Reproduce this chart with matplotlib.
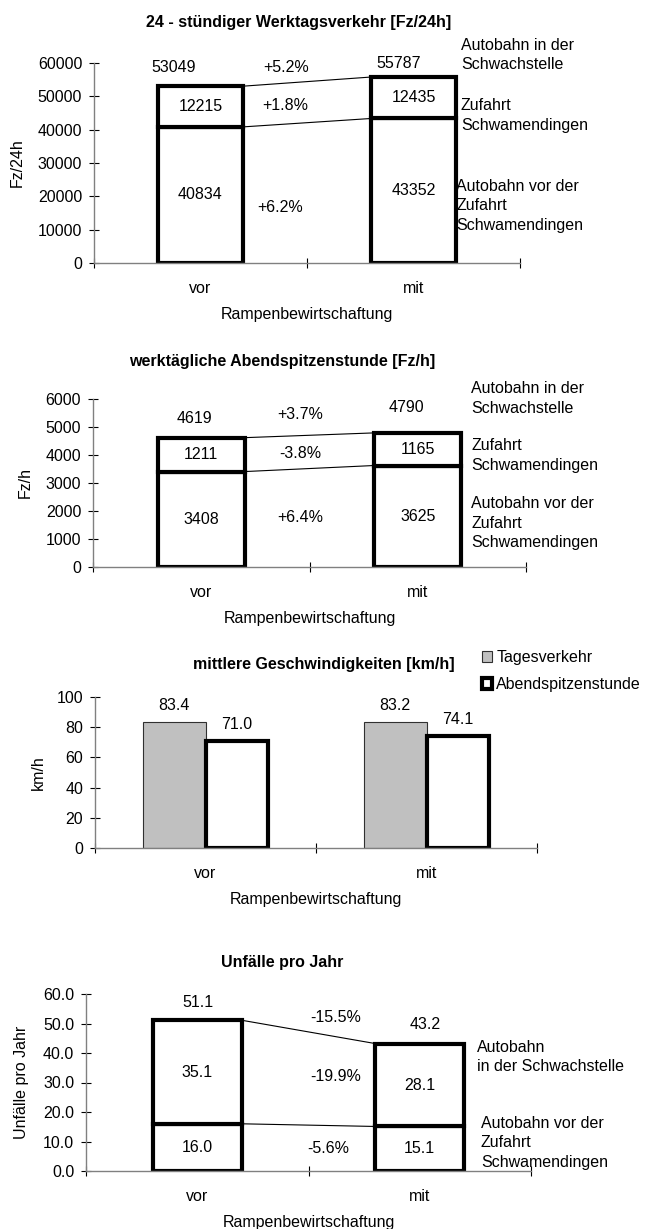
import numpy as np
import matplotlib.pyplot as plt
from matplotlib.patches import Patch

plt.rcParams['font.family'] = ['Liberation Sans', 'DejaVu Sans']
plt.rcParams['font.size'] = 11.5

kategorien = ['vor', 'mit']
xlab = 'Rampenbewirtschaftung'

# 24-stuendiger Werktagsverkehr
dtv_unten = [40834, 43352]     # Autobahn vor der Zufahrt
dtv_zufahrt = [12215, 12435]   # Zufahrt Schwamendingen
dtv_summe = [53049, 55787]     # Autobahn in der Schwachstelle
dtv_prozent = ['+5.2%', '+1.8%', '+6.2%']

# Abendspitzenstunde
asp_unten = [3408, 3625]
asp_zufahrt = [1211, 1165]
asp_summe = [4619, 4790]
asp_prozent = ['+3.7%', '-3.8%', '+6.4%']

# Geschwindigkeiten
v_tag = [83.4, 83.2]
v_asp = [71.0, 74.1]

# Unfaelle
unf_unten = [16.0, 15.1]
unf_oben = [35.1, 28.1]
unf_summe = [51.1, 43.2]
unf_prozent = ['-15.5%', '-19.9%', '-5.6%']

W, H = 653, 1229
fig = plt.figure(figsize=(W / 100, H / 100), dpi=100)


def achse(left, right, top, bottom):
    return fig.add_axes([left / W, 1 - bottom / H, (right - left) / W, (bottom - top) / H])


def stil(ax, ymax, ystep, fmt, ylabel, ylx):
    ax.set_xlim(0, 2)
    ax.set_ylim(0, ymax)
    for s in ['top', 'right']:
        ax.spines[s].set_visible(False)
    for s in ['left', 'bottom']:
        ax.spines[s].set_color('#808080')
        ax.spines[s].set_linewidth(1)
    ax.set_yticks(np.arange(0, ymax + ystep / 2, ystep))
    ax.set_yticklabels([fmt.format(v) for v in np.arange(0, ymax + ystep / 2, ystep)])
    ax.tick_params(axis='y', direction='inout', length=7, width=0.8, pad=5)
    ax.set_xticks([0.5, 1.5])
    ax.set_xticklabels(kategorien)
    ax.set_xticks([0, 1, 2], minor=True)
    ax.tick_params(axis='x', which='major', length=0, pad=13)
    ax.tick_params(axis='x', which='minor', direction='inout', length=7, width=0.8)
    ax.set_xlabel(xlab, labelpad=8)
    ax.set_ylabel(ylabel)
    ax.yaxis.set_label_coords(ylx, 0.5)


def gestapelt(ax, unten, oben, breite=0.4):
    x = np.array([0.5, 1.5])
    ax.bar(x, unten, breite, facecolor='white', edgecolor='black', linewidth=3, zorder=2)
    ax.bar(x, oben, breite, bottom=unten, facecolor='white', edgecolor='black', linewidth=3, zorder=2)
    summe = np.array(unten) + np.array(oben)
    ax.plot([x[0] + breite / 2, x[1] - breite / 2], [summe[0], summe[1]], color='black', lw=0.8, zorder=1)
    ax.plot([x[0] + breite / 2, x[1] - breite / 2], [unten[0], unten[1]], color='black', lw=0.8, zorder=1)
    for i in range(2):
        ax.text(x[i], unten[i] / 2, f'{unten[i]:g}' if isinstance(unten[i], int) else f'{unten[i]:.1f}',
                ha='center', va='center', zorder=3)
        ax.text(x[i], unten[i] + oben[i] / 2, f'{oben[i]:g}' if isinstance(oben[i], int) else f'{oben[i]:.1f}',
                ha='center', va='center', zorder=3)


# --- 24h ---
ax1 = achse(94, 520, 63, 263)
stil(ax1, 60000, 10000, '{:.0f}', 'Fz/24h', -0.162)
gestapelt(ax1, dtv_unten, dtv_zufahrt)
ax1.text(0.375, 58800, f'{dtv_summe[0]}', ha='center', va='center')
ax1.text(1.43, 60000, f'{dtv_summe[1]}', ha='center', va='center')
ax1.text(0.90, 58500, dtv_prozent[0], ha='center', va='center')
ax1.text(0.90, 47100, dtv_prozent[1], ha='center', va='center')
ax1.text(0.873, 16800, dtv_prozent[2], ha='center', va='center')
ax1.text(1.723, 62400, 'Autobahn in der\nSchwachstelle', ha='left', va='center', linespacing=1.35)
ax1.text(1.723, 44250, 'Zufahrt\nSchwamendingen', ha='left', va='center', linespacing=1.35)
ax1.text(1.70, 17100, 'Autobahn vor der\nZufahrt\nSchwamendingen', ha='left', va='center', linespacing=1.35)
fig.text(299 / W, 1 - 22 / H, '24 - stündiger Werktagsverkehr [Fz/24h]', ha='center', va='center',
         fontweight='bold')

# --- Abendspitzenstunde ---
ax2 = achse(93, 526, 399, 567)
stil(ax2, 6000, 1000, '{:.0f}', 'Fz/h', -0.139)
gestapelt(ax2, asp_unten, asp_zufahrt)
ax2.text(0.467, 5286, f'{asp_summe[0]}', ha='center', va='center')
ax2.text(1.45, 5679, f'{asp_summe[1]}', ha='center', va='center')
ax2.text(0.956, 5429, asp_prozent[0], ha='center', va='center')
ax2.text(0.956, 4036, asp_prozent[1], ha='center', va='center')
ax2.text(0.956, 1750, asp_prozent[2], ha='center', va='center')
ax2.text(1.746, 6018, 'Autobahn in der\nSchwachstelle', ha='left', va='center', linespacing=1.35)
ax2.text(1.746, 3982, 'Zufahrt\nSchwamendingen', ha='left', va='center', linespacing=1.35)
ax2.text(1.746, 1571, 'Autobahn vor der\nZufahrt\nSchwamendingen', ha='left', va='center', linespacing=1.35)
fig.text(282 / W, 1 - 361 / H, 'werktägliche Abendspitzenstunde [Fz/h]', ha='center', va='center',
         fontweight='bold')

# --- Geschwindigkeiten ---
ax3 = achse(95, 537, 697, 848)
stil(ax3, 100, 20, '{:.0f}', 'km/h', -0.111)
xg = np.array([0.5, 1.5])
bw = 0.285
ax3.bar(xg - bw / 2, v_tag, bw, facecolor='#c0c0c0', edgecolor='#303030', linewidth=0.8, zorder=2)
ax3.bar(xg + bw / 2, v_asp, bw, facecolor='white', edgecolor='black', linewidth=3, zorder=2)
for i in range(2):
    ax3.text(xg[i] - bw / 2, v_tag[i] + 11, f'{v_tag[i]:.1f}', ha='center', va='center')
    ax3.text(xg[i] + bw / 2, v_asp[i] + 11, f'{v_asp[i]:.1f}', ha='center', va='center')
fig.text(324 / W, 1 - 665 / H, 'mittlere Geschwindigkeiten [km/h]', ha='center', va='center',
         fontweight='bold')
fig.legend(handles=[Patch(facecolor='#c0c0c0', edgecolor='#303030', linewidth=0.8),
                    Patch(facecolor='white', edgecolor='black', linewidth=3)],
           labels=['Tagesverkehr', 'Abendspitzenstunde'], loc='upper left',
           bbox_to_anchor=(482 / W, 1 - 650 / H), frameon=False, borderpad=0, borderaxespad=0,
           handlelength=0.65, handleheight=0.65, handletextpad=0.25, labelspacing=0.75)

# --- Unfaelle ---
ax4 = achse(86, 531, 994, 1171)
stil(ax4, 60, 10, '{:.1f}', 'Unfälle pro Jahr', -0.128)
gestapelt(ax4, unf_unten, unf_oben)
ax4.text(0.503, 57.0, f'{unf_summe[0]:.1f}', ha='center', va='center')
ax4.text(1.525, 49.8, f'{unf_summe[1]:.1f}', ha='center', va='center')
ax4.text(1.12, 51.9, unf_prozent[0], ha='center', va='center')
ax4.text(1.12, 32.2, unf_prozent[1], ha='center', va='center')
ax4.text(1.09, 7.6, unf_prozent[2], ha='center', va='center')
ax4.text(1.757, 38.6, 'Autobahn\nin der Schwachstelle', ha='left', va='center', linespacing=1.35)
ax4.text(1.775, 9.5, 'Autobahn vor der\nZufahrt\nSchwamendingen', ha='left', va='center', linespacing=1.35)
fig.text(282 / W, 1 - 963 / H, 'Unfälle pro Jahr', ha='center', va='center', fontweight='bold')

fig.savefig('out.png', dpi=100)
